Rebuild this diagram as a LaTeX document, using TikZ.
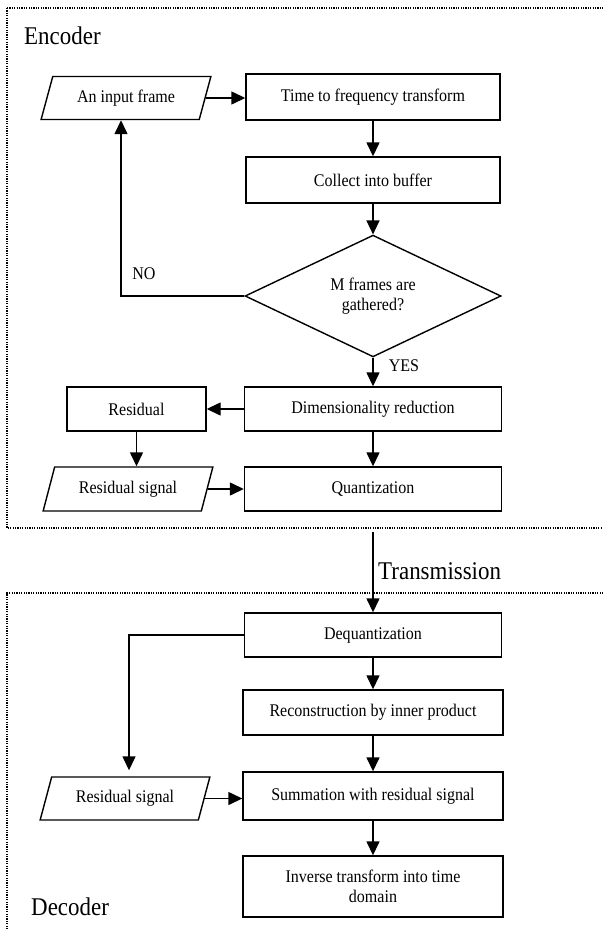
\documentclass[tikz,border=0pt]{standalone}
\usepackage{fontspec}
\setmainfont[FakeStretch=0.9]{Liberation Serif}
\usetikzlibrary{arrows.meta,shapes.geometric}
\tikzset{
  lw/.style={line width=1.4pt},
  txt/.style={font=\fontsize{17.8}{20}\selectfont},
  box/.style={draw, lw, rectangle, inner sep=0pt, minimum width=257pt, minimum height=44pt, txt, align=center},
  io/.style={draw, lw, trapezium, trapezium left angle=64.5, trapezium right angle=115.5, trapezium stretches=true, inner sep=0pt, minimum width=170pt, minimum height=43pt, txt},
  dec/.style={draw, lw, diamond, inner sep=0pt, minimum width=256pt, minimum height=114pt, txt, align=center},
  arr/.style={lw, -{Triangle[length=14pt,width=13pt]}},
  lbl/.style={txt},
  big/.style={font=\fontsize{25.5}{28}\selectfont},
  frame/.style={line width=1.2pt, dash pattern=on 1.2pt off 1.2pt, black},
}
\begin{document}
\begin{tikzpicture}[x=1pt,y=-1pt]
\useasboundingbox (0,0) rectangle (603,930);
\clip (0,0) rectangle (603,930);
% frames
\draw[frame] (7,8) -- (620,8) (7,8) -- (7,528) -- (620,528);
\draw[frame] (620,593) -- (7,593) -- (7,940);
\node[big, anchor=base west, inner sep=0pt] (enc) at (24,44) {Encoder};
\node[big, anchor=base west, inner sep=0pt] (decl) at (31,915) {Decoder};
% encoder
\node[io] (inp) at (126,98) {An input frame};
\node[box, minimum width=254pt, minimum height=46pt] (time) at (373,97) {Time to frequency transform};
\node[box, minimum width=254pt, minimum height=46pt] (coll) at (373,180) {Collect into buffer};
\node[dec] (dia) at (373,296) {M frames are\\gathered?};
\node[box] (dim) at (373,409) {Dimensionality reduction};
\node[box, minimum width=139pt] (res) at (136.5,409) {Residual};
\node[io, minimum height=44pt] (rsig) at (128,489) {Residual signal};
\node[box] (quant) at (373,489) {Quantization};
% decoder
\node[box] (deq) at (373,635) {Dequantization};
\node[box, minimum width=260pt, minimum height=45pt] (rec) at (373,712.5) {Reconstruction by inner product};
\node[box, minimum width=260pt, minimum height=48pt] (sum) at (373,796) {Summation with residual signal};
\node[box, minimum width=260pt, minimum height=61pt] (inv) at (373,886.5) {Inverse transform into time\\domain};
\node[io] (dsig) at (125,798.5) {Residual signal};
% labels
\node[lbl] (no) at (144,274) {NO};
\node[lbl] (yes) at (404,366) {YES};
\coordinate (tx) at (373,532);
\node[big, anchor=west, inner sep=0pt] (trans) at (378,571) {Transmission};
% connectors
\draw[arr] (inp.east) -- (inp.east -| time.west);
\draw[arr] (time) -- (coll);
\draw[arr] (coll) -- (dia.north);
\draw[arr] (dia.west) -| ([xshift=-5pt]inp.south);
\draw[arr] (dia.south) -- (dim.north);
\draw[arr] (dim.west) -- (res.east);
\draw[arr] (res.south) -- (res.south |- rsig.north);
\draw[arr] (dim) -- (quant);
\draw[arr] (rsig.east) -- (rsig.east -| quant.west);
\draw[arr] (tx) -- (deq.north);
\draw[arr] (deq) -- (rec);
\draw[arr] (rec) -- (sum);
\draw[arr] (sum) -- (inv);
\draw[arr, shorten >=6pt] (deq.west) -| ([xshift=4pt]dsig.north);
\draw[arr] (dsig.east) -- (dsig.east -| sum.west);
\end{tikzpicture}
\end{document}
